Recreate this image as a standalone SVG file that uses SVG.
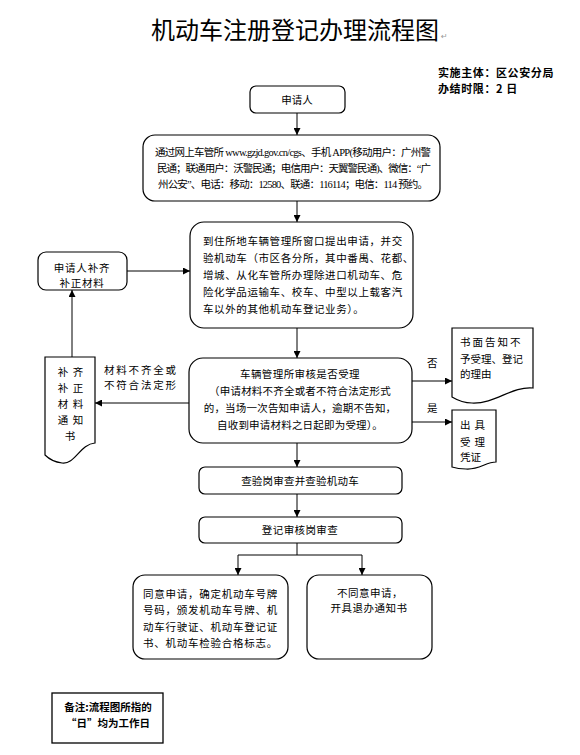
<svg xmlns="http://www.w3.org/2000/svg" width="580" height="755" viewBox="0 0 580 755">
<defs>
<style>
.bx{fill:#fff;stroke:#000;stroke-width:1.2}
.ln{fill:none;stroke:#000;stroke-width:1}
.t{font-family:"Noto Sans CJK SC","Noto Sans",sans-serif;font-size:10.5px;fill:#000}
.s{font-family:"Liberation Serif","Noto Sans CJK SC",serif;font-size:10.5px;fill:#000}
.c{text-anchor:middle}
.b{font-weight:bold}
</style>
<marker id="ah" viewBox="0 0 10 10" refX="10" refY="5" markerWidth="7" markerHeight="7" markerUnits="userSpaceOnUse" orient="auto">
<path d="M0,0 L10,5 L0,10 Z" fill="#000"/>
</marker>
</defs>
<rect width="580" height="755" fill="#fff"/>

<g id="title">
<text x="295" y="39" class="c" style="font-family:'Noto Sans CJK SC',sans-serif;font-size:24px;fill:#000">机动车注册登记办理流程图</text>
<text x="441" y="39" style="font-family:'DejaVu Sans',sans-serif;font-size:8px;fill:#999">↵</text>
</g>

<g id="info">
<text x="438" y="77" class="t b" style="font-size:11px;letter-spacing:0.6px">实施主体：区公安分局</text>
<text x="438" y="93" class="t b" style="font-size:11px;letter-spacing:0.6px">办结时限：2 日</text>
</g>

<g id="connectors">
<line class="ln" x1="297" y1="113" x2="297" y2="135" marker-end="url(#ah)"/>
<line class="ln" x1="297" y1="201" x2="297" y2="222" marker-end="url(#ah)"/>
<line class="ln" x1="297" y1="328" x2="297" y2="358" marker-end="url(#ah)"/>
<line class="ln" x1="127" y1="271" x2="190" y2="271" marker-end="url(#ah)"/>
<line class="ln" x1="72" y1="357" x2="72" y2="290" marker-end="url(#ah)"/>
<line class="ln" x1="189" y1="403" x2="95" y2="403" marker-end="url(#ah)"/>
<line class="ln" x1="412" y1="381" x2="452" y2="381" marker-end="url(#ah)"/>
<line class="ln" x1="412" y1="422" x2="452" y2="422" marker-end="url(#ah)"/>
<line class="ln" x1="297" y1="443" x2="297" y2="467" marker-end="url(#ah)"/>
<line class="ln" x1="297" y1="494" x2="297" y2="517" marker-end="url(#ah)"/>
<polyline class="ln" points="297,543 297,555"/>
<polyline class="ln" points="238,555 362,555"/>
<line class="ln" x1="238" y1="555" x2="238" y2="575" marker-end="url(#ah)"/>
<line class="ln" x1="362" y1="555" x2="362" y2="575" marker-end="url(#ah)"/>
<text x="104" y="374" class="t" style="letter-spacing:1.8px">材料不齐全或</text>
<text x="104" y="389" class="t" style="letter-spacing:1.8px">不符合法定形</text>
<text x="427" y="367" class="t">否</text>
<text x="427" y="412" class="t">是</text>
</g>

<g id="n-applicant">
<rect class="bx" x="250" y="86" width="95" height="27" rx="6"/>
<text x="297" y="103.5" class="t c">申请人</text>
</g>

<g id="n-online">
<rect class="bx" x="143" y="135" width="297" height="66" rx="12"/>
<text x="293" y="156" class="s c" textLength="276">通过网上车管所 www.gzjd.gov.cn/cgs、手机 APP(移动用户：广州警</text>
<text x="294" y="172" class="s c" textLength="274">民通；联通用户：沃警民通；电信用户：天翼警民通)、微信：“广</text>
<text x="293" y="188" class="s c" textLength="270">州公安”、电话：移动：12580、联通：116114；电信：114 预约。</text>
</g>

<g id="n-window">
<rect class="bx" x="190" y="222" width="223" height="106" rx="14"/>
<text x="203" y="245" class="t" style="letter-spacing:0.6px">到住所地车辆管理所窗口提出申请，并交</text>
<text x="203" y="262" class="t" style="letter-spacing:0.6px">验机动车（市区各分所，其中番禺、花都、</text>
<text x="203" y="279" class="t" style="letter-spacing:0.6px">增城、从化车管所办理除进口机动车、危</text>
<text x="203" y="296" class="t" style="letter-spacing:0.6px">险化学品运输车、校车、中型以上载客汽</text>
<text x="203" y="313" class="t" style="letter-spacing:0.6px">车以外的其他机动车登记业务）。</text>
</g>

<g id="n-supplement">
<rect class="bx" x="38" y="252" width="89" height="38" rx="8"/>
<text x="82" y="272" class="t c" style="letter-spacing:0.8px">申请人补齐</text>
<text x="82" y="287" class="t c" style="letter-spacing:0.8px">补正材料</text>
</g>

<g id="n-notice">
<path class="bx" d="M45,357 H95 V443 C80,444 75,465 62,463 C54,462 49,459 45,455 Z"/>
<text x="63" y="376" class="t c">补</text><text x="78" y="376" class="t c">齐</text>
<text x="63" y="392" class="t c">补</text><text x="78" y="392" class="t c">正</text>
<text x="63" y="408" class="t c">材</text><text x="78" y="408" class="t c">料</text>
<text x="63" y="424" class="t c">通</text><text x="78" y="424" class="t c">知</text>
<text x="70" y="440" class="t c">书</text>
</g>

<g id="n-review">
<rect class="bx" x="189" y="358" width="223" height="85" rx="14"/>
<text x="300" y="378" class="t c" style="letter-spacing:0.4px">车辆管理所审核是否受理</text>
<text x="300" y="395" class="t c" style="letter-spacing:0.2px">（申请材料不齐全或者不符合法定形式</text>
<text x="300" y="412" class="t c" style="letter-spacing:0.2px">的，当场一次告知申请人，逾期不告知，</text>
<text x="300" y="429" class="t c" style="letter-spacing:0.2px">自收到申请材料之日起即为受理）。</text>
</g>

<g id="n-reject">
<path class="bx" d="M452,328 H533 V388 C512,386 495,404 472,403 C463,403 457,400 452,397 Z"/>
<text x="460" y="346" class="t" style="letter-spacing:2px">书面告知不</text>
<text x="460" y="363" class="t">予受理、登记</text>
<text x="460" y="378" class="t">的理由</text>
</g>

<g id="n-receipt">
<path class="bx" d="M452,410 H496 V462 C486,462 479,470 466,469 C460,469 455,468 452,467 Z"/>
<text x="460" y="429" class="t" style="letter-spacing:4px">出具</text>
<text x="460" y="446" class="t" style="letter-spacing:4px">受理</text>
<text x="460" y="461" class="t">凭证</text>
</g>

<g id="n-inspect">
<rect class="bx" x="199" y="467" width="203" height="27" rx="6"/>
<text x="300" y="485" class="t c" style="letter-spacing:0.2px">查验岗审查并查验机动车</text>
</g>

<g id="n-register">
<rect class="bx" x="199" y="517" width="203" height="26" rx="6"/>
<text x="300" y="534" class="t c" style="letter-spacing:0.4px">登记审核岗审查</text>
</g>

<g id="n-agree">
<rect class="bx" x="133" y="575" width="155" height="84" rx="12"/>
<text x="143" y="598" class="t" style="letter-spacing:0.75px">同意申请，确定机动车号牌</text>
<text x="143" y="614" class="t" style="letter-spacing:0.75px">号码，颁发机动车号牌、机</text>
<text x="143" y="631" class="t" style="letter-spacing:0.75px">动车行驶证、机动车登记证</text>
<text x="143" y="647" class="t" style="letter-spacing:0.75px">书、机动车检验合格标志。</text>
</g>

<g id="n-disagree">
<rect class="bx" x="307" y="575" width="125" height="84" rx="12"/>
<text x="370" y="597" class="t c" style="letter-spacing:0.5px">不同意申请，</text>
<text x="369" y="612" class="t c" style="letter-spacing:0.5px">开具退办通知书</text>
</g>

<g id="n-note">
<rect x="52" y="693" width="111" height="50" fill="#fff" stroke="#000" stroke-width="1.3"/>
<text x="108" y="711" class="t c b">备注:流程图所指的</text>
<text x="108" y="727" class="t c b">“日”均为工作日</text>
</g>
</svg>
